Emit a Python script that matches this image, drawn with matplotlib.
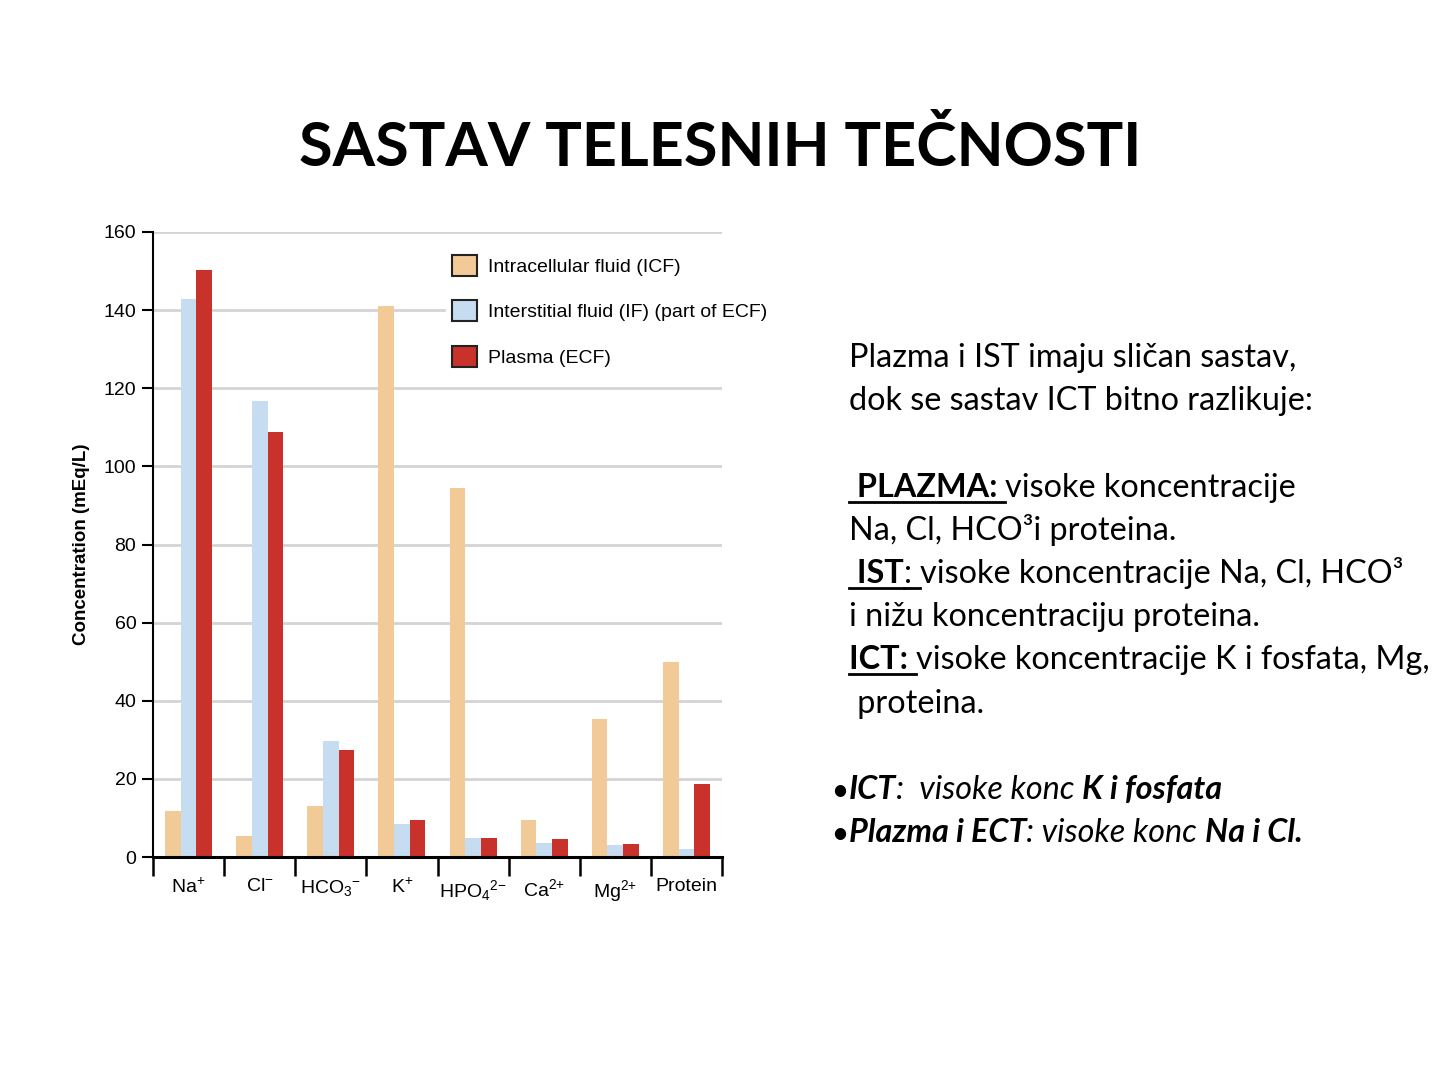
import matplotlib
matplotlib.use("Agg")
import matplotlib.pyplot as plt
import numpy as np
from matplotlib.patches import Patch
from matplotlib.lines import Line2D

# data
ions = [r'Na$^{+}$', r'Cl$^{-}$', r'HCO$_{3}$$^{{-}}$', r'K$^{+}$',
        r'HPO$_{4}$$^{2{-}}$', r'Ca$^{2{+}}$', r'Mg$^{2{+}}$', 'Protein']
icf = [11.8, 5.4, 13.0, 141.0, 94.5, 9.5, 35.3, 49.9]
isf = [142.9, 116.7, 29.7, 8.4, 4.9, 3.6, 3.1, 2.0]
plasma = [150.3, 108.8, 27.4, 9.5, 4.9, 4.6, 3.3, 18.7]
series_names = ['Intracellular fluid (ICF)', 'Interstitial fluid (IF) (part of ECF)', 'Plasma (ECF)']
colors = ['#F2CA98', '#C6DCF1', '#C9312B']
yticks = [0, 20, 40, 60, 80, 100, 120, 140, 160]

title = 'SASTAV TELESNIH TEČNOSTI'

# right hand text: list of lines, each line list of (text, bold, italic, underline)
text_lines = [
    [('Plazma i IST imaju sličan sastav,', 0, 0, 0)],
    [('dok se sastav ICT bitno razlikuje:', 0, 0, 0)],
    [],
    [(' PLAZMA: ', 1, 0, 1), ('visoke koncentracije', 0, 0, 0)],
    [('Na, Cl, HCO³i proteina.', 0, 0, 0)],
    [(' IST', 1, 0, 1), (': ', 0, 0, 1), ('visoke koncentracije Na, Cl, HCO³', 0, 0, 0)],
    [('i nižu koncentraciju proteina.', 0, 0, 0)],
    [('ICT: ', 1, 0, 1), ('visoke koncentracije K i fosfata, Mg,', 0, 0, 0)],
    [(' proteina.', 0, 0, 0)],
    [],
    [('ICT', 1, 1, 0), (':  visoke konc ', 0, 1, 0), ('K i fosfata', 1, 1, 0)],
    [('Plazma i ECT', 1, 1, 0), (': visoke konc ', 0, 1, 0), ('Na i Cl.', 1, 1, 0)],
]
bullet_lines = [10, 11]

W, H = 1440, 1080
plt.rcParams['mathtext.fontset'] = 'custom'
plt.rcParams['mathtext.rm'] = 'Liberation Sans'
plt.rcParams['mathtext.it'] = 'Liberation Sans'
chart_font = ['Liberation Sans', 'DejaVu Sans']
body_font = ['Lato', 'DejaVu Sans']

fig = plt.figure(figsize=(W / 100, H / 100), dpi=100)
fig.patch.set_facecolor('white')

ax = fig.add_axes([153 / W, 1 - 857 / H, (722 - 153) / W, (857 - 232) / H])
x = np.arange(len(ions)) + 0.5
bw = 0.22
for k, vals in enumerate([icf, isf, plasma]):
    ax.bar(x + (k - 1) * bw, vals, width=bw, color=colors[k], zorder=2)

ax.set_xlim(0, len(ions))
ax.set_ylim(0, 160)
ax.set_yticks(yticks)
ax.set_yticklabels([str(v) for v in yticks], fontsize=14, family=chart_font)
ax.yaxis.grid(True, color='#d4d4d4', lw=2, zorder=0)
ax.set_axisbelow(True)
ax.set_xticks(x)
ax.set_xticklabels(ions, fontsize=14, family=chart_font)
ax.set_xticks(np.arange(len(ions) + 1), minor=True)
ax.tick_params(axis='x', which='major', length=0, pad=15)
ax.tick_params(axis='x', which='minor', length=14, width=1.8, direction='out')
ax.tick_params(axis='y', length=8, width=1.5, pad=4)
for s in ['top', 'right']:
    ax.spines[s].set_visible(False)
ax.spines['left'].set_linewidth(1.5)
ax.spines['bottom'].set_linewidth(2.2)
ax.set_ylabel('Concentration (mEq/L)', fontsize=13.5, fontweight='bold',
              family=chart_font, labelpad=10)

handles = [Patch(facecolor=c, edgecolor='#222222', lw=1.5) for c in colors]
leg = ax.legend(handles, series_names, loc='upper left', bbox_to_anchor=(436 / W, 1 - 239 / H),
                bbox_transform=fig.transFigure, frameon=True, framealpha=1, edgecolor='white',
                handlelength=1.3, handleheight=1.3, labelspacing=1.25, handletextpad=0.6,
                borderpad=0.3, prop={'family': chart_font, 'size': 14})
leg.set_zorder(5)

fig.text(720 / W, 1 - 148 / H, title, ha='center', va='center', fontsize=44,
         fontweight='bold', family=body_font)

# rich text on the right
fig.canvas.draw()
renderer = fig.canvas.get_renderer()


def seg_width(s, props):
    t1 = fig.text(0, 0, 'x' + s + 'x', **props)
    t2 = fig.text(0, 0, 'xx', **props)
    w = t1.get_window_extent(renderer).width - t2.get_window_extent(renderer).width
    t1.remove()
    t2.remove()
    return w


body_size = 23.3
x0 = 849
base0 = 367
line_step = 43.2
for i, line in enumerate(text_lines):
    if not line:
        continue
    xp = x0
    yb = base0 + i * line_step
    if i in bullet_lines:
        fig.text(832 / W, 1 - yb / H, '•', ha='left', va='baseline',
                 fontsize=body_size * 0.8, family=body_font, fontweight='bold')
    for s, b, it, ul in line:
        props = dict(fontsize=body_size, family=body_font,
                     fontweight='bold' if b else 'normal',
                     fontstyle='italic' if it else 'normal')
        w = seg_width(s, props)
        fig.text(xp / W, 1 - yb / H, s, ha='left', va='baseline', **props)
        if ul:
            fig.add_artist(Line2D([xp / W, (xp + w) / W], [1 - (yb + 5) / H] * 2,
                                  transform=fig.transFigure, color='black', lw=2))
        xp += w

fig.savefig('out.png', dpi=100, facecolor='white')
